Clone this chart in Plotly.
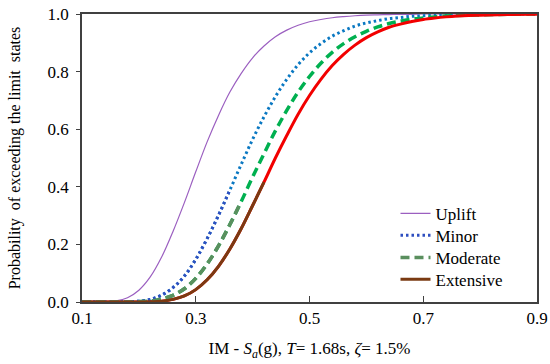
import plotly.graph_objects as go

# Intensity measure values (Sa in g)
im_values = [0.10, 0.12, 0.14, 0.16, 0.18, 0.20, 0.22, 0.24, 0.26, 0.28,
             0.30, 0.32, 0.34, 0.36, 0.38, 0.40, 0.42, 0.44, 0.46, 0.48,
             0.50, 0.52, 0.54, 0.56, 0.58, 0.60, 0.62, 0.64, 0.66, 0.68,
             0.70, 0.72, 0.74, 0.76, 0.78, 0.80, 0.85, 0.90]

uplift = [0.000, 0.000, 0.001, 0.004, 0.015, 0.041, 0.087, 0.156, 0.245, 0.345,
          0.452, 0.556, 0.648, 0.729, 0.794, 0.848, 0.889, 0.921, 0.944, 0.961,
          0.973, 0.981, 0.987, 0.991, 0.994, 0.996, 0.997, 0.998, 0.999, 0.999,
          1.000, 1.000, 1.000, 1.000, 1.000, 1.000, 1.000, 1.000]

minor = [0.000, 0.000, 0.000, 0.000, 0.001, 0.003, 0.009, 0.024, 0.050, 0.090,
         0.148, 0.220, 0.301, 0.389, 0.478, 0.565, 0.643, 0.713, 0.773, 0.824,
         0.865, 0.897, 0.923, 0.942, 0.958, 0.969, 0.977, 0.984, 0.988, 0.992,
         0.994, 0.996, 0.997, 0.998, 0.999, 0.999, 1.000, 1.000]

moderate = [0.000, 0.000, 0.000, 0.000, 0.000, 0.001, 0.003, 0.010, 0.023, 0.046,
            0.082, 0.132, 0.195, 0.269, 0.349, 0.434, 0.515, 0.594, 0.665, 0.729,
            0.783, 0.829, 0.867, 0.897, 0.921, 0.940, 0.955, 0.967, 0.975, 0.982,
            0.986, 0.990, 0.993, 0.995, 0.996, 0.997, 0.999, 1.000]

extensive = [0.000, 0.000, 0.000, 0.000, 0.000, 0.000, 0.001, 0.003, 0.009, 0.021,
             0.043, 0.077, 0.124, 0.184, 0.255, 0.335, 0.416, 0.500, 0.578, 0.652,
             0.717, 0.773, 0.821, 0.860, 0.892, 0.918, 0.938, 0.954, 0.965, 0.974,
             0.981, 0.986, 0.990, 0.993, 0.995, 0.996, 0.998, 0.999]

names = ["Uplift", "Minor", "Moderate", "Extensive"]
x_ticks = [0.1, 0.3, 0.5, 0.7, 0.9]

SERIF = "Liberation Serif, Times New Roman, serif"

fig = go.Figure()

# main curves (upper colours)
fig.add_trace(go.Scatter(x=im_values, y=uplift, mode="lines", name=names[0],
                         line=dict(color="#9B5FC0", width=1.2, shape="spline"),
                         legend="legend"))
fig.add_trace(go.Scatter(x=im_values, y=minor, mode="lines", showlegend=False,
                         line=dict(color="#0A78C2", width=3, dash="2.5px,3px", shape="spline")))
fig.add_trace(go.Scatter(x=im_values, y=moderate, mode="lines", showlegend=False,
                         line=dict(color="#00B050", width=3.5, dash="9px,5px", shape="spline")))
fig.add_trace(go.Scatter(x=im_values, y=extensive, mode="lines", showlegend=False,
                         line=dict(color="#F20000", width=3, shape="spline")))

# lower segments drawn in the darker tones seen in the reference (also legend keys)
fig.add_trace(go.Scatter(x=im_values[:14], y=minor[:14], mode="lines", name=names[1],
                         line=dict(color="#2F4FC0", width=3, dash="2.5px,3px", shape="spline"),
                         legend="legend2"))
fig.add_trace(go.Scatter(x=im_values[:15], y=moderate[:15], mode="lines", name=names[2],
                         line=dict(color="#5A8F5E", width=3.5, dash="9px,5px", shape="spline"),
                         legend="legend3"))
fig.add_trace(go.Scatter(x=im_values[:17], y=extensive[:17], mode="lines", name=names[3],
                         line=dict(color="#7A3A12", width=3, shape="spline"),
                         legend="legend4"))

axis_common = dict(showline=True, linecolor="#404040", linewidth=1.5, mirror=True,
                   showgrid=False, zeroline=False, tickcolor="#404040", automargin=False,
                   tickfont=dict(family=SERIF, size=17, color="black"))

fig.update_xaxes(range=[0.1, 0.9], tickvals=x_ticks, tickformat=".1f",
                 ticks="inside", ticklen=6,
                 title=dict(text="IM - <i>S</i><sub><i>a</i></sub>(g), <i>T</i>= 1.68s, <i>ζ</i>= 1.5%",
                            font=dict(family=SERIF, size=17, color="black"),
                            standoff=15),
                 **axis_common)
fig.update_yaxes(range=[0, 1.0], dtick=0.2, tick0=0, tickformat=".1f",
                 ticks="outside", ticklen=4, ticklabelstandoff=4,
                 title=dict(text="Probability  of exceeding the limit  states",
                            font=dict(family=SERIF, size=16, color="black"),
                            standoff=23),
                 **axis_common)

legend_style = dict(x=0.689, xanchor="left", yanchor="middle",
                    bgcolor="rgba(0,0,0,0)", font=dict(family=SERIF, size=17),
                    itemwidth=30)

fig.update_layout(
    width=550, height=364,
    margin=dict(l=82, r=13, t=14, b=62, autoexpand=False),
    plot_bgcolor="white", paper_bgcolor="white",
    font=dict(family=SERIF, size=17, color="black"),
    legend=dict(y=0.306, **legend_style),
    legend2=dict(y=0.230, **legend_style),
    legend3=dict(y=0.153, **legend_style),
    legend4=dict(y=0.077, **legend_style),
)

fig.write_html("out.html", config={"displayModeBar": False},
               post_script="document.body.style.margin='0';")
